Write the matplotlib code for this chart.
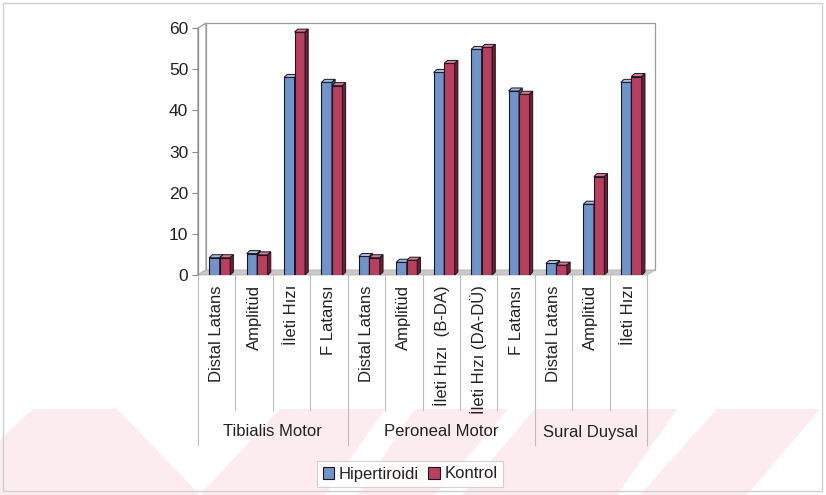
import matplotlib
matplotlib.use("Agg")
import matplotlib.pyplot as plt
from matplotlib.patches import Polygon, Rectangle, Patch
from matplotlib.lines import Line2D

plt.rcParams['font.family'] = ['Liberation Sans', 'DejaVu Sans']

# ---------------- data ----------------
groups = ["Tibialis Motor", "Peroneal Motor", "Sural Duysal"]
group_sizes = [4, 5, 3]
categories = ["Distal Latans", "Amplitüd", "İleti Hızı", "F Latansı",
              "Distal Latans", "Amplitüd", "İleti Hızı  (B-DA)", "İleti Hızı (DA-DÜ)", "F Latansı",
              "Distal Latans", "Amplitüd", "İleti Hızı"]
hipertiroidi = [4.2, 5.2, 48.0, 46.8, 4.5, 3.1, 49.2, 54.8, 44.7, 2.8, 17.2, 46.8]
kontrol = [4.2, 4.9, 59.0, 46.0, 4.2, 3.6, 51.4, 55.3, 43.9, 2.4, 23.9, 48.2]
series_names = ["Hipertiroidi", "Kontrol"]
yticks = [0, 10, 20, 30, 40, 50, 60]

# ---------------- style ----------------
W, H = 826, 495
fig = plt.figure(figsize=(W / 100, H / 100), dpi=100)
txt = '#222222'

def fx(px):
    return px / W

def fy(py):
    return 1 - py / H

# watermark band (decoration)
band_top, band_bot = 409, 495
pink = '#fdecef'
fig.patches.append(Rectangle((0, fy(band_bot)), 1, fy(band_top) - fy(band_bot),
                             transform=fig.transFigure, facecolor=pink, edgecolor='none', zorder=0))
whites = [
    [(0, 409), (33, 409), (0, 440)],
    [(117, 409), (280, 409), (200, 495)],
    [(325, 495), (358, 495), (415, 409), (385, 409)],
    [(435, 495), (462, 495), (535, 409), (508, 409)],
    [(617, 495), (640, 495), (717, 409), (677, 409)],
    [(747, 495), (826, 495), (826, 409), (820, 409)],
]
for poly in whites:
    fig.patches.append(Polygon([(fx(a), fy(b)) for a, b in poly], closed=True,
                               transform=fig.transFigure, facecolor='white', edgecolor='none', zorder=0.5))
# outer frame
fig.patches.append(Rectangle((fx(3), fy(491)), fx(819), fy(3) - fy(491), transform=fig.transFigure,
                             facecolor='none', edgecolor='#cfcfcf', linewidth=1.0, zorder=1))

# axes placement: x 198..647 px, y 275 (0) .. 28 (60)
x0p, x1p, y0p, y1p = 198, 647, 275, 28
ax = fig.add_axes([fx(x0p), fy(y0p), fx(x1p - x0p), fy(y1p) - fy(y0p)])
ax.set_zorder(3)
ax.patch.set_alpha(0)
n = len(categories)
ax.set_xlim(0, n)
ax.set_ylim(0, 60)
for s in ax.spines.values():
    s.set_visible(False)

ux = (x1p - x0p) / n      # px per category
uy = (y0p - y1p) / 60.0   # px per value unit

# wall depth
wdx, wdy = 8 / ux, 5 / uy
edge_wall = '#9a9a9a'
# back wall
ax.add_patch(Polygon([(wdx, wdy), (n + wdx, wdy), (n + wdx, 60 + wdy), (wdx, 60 + wdy)],
                     closed=True, facecolor='white', edgecolor=edge_wall, linewidth=0.9, clip_on=False, zorder=1))
# left wall
ax.add_patch(Polygon([(0, 0), (wdx, wdy), (wdx, 60 + wdy), (0, 60)],
                     closed=True, facecolor='white', edgecolor=edge_wall, linewidth=0.9, clip_on=False, zorder=1))
# floor
ax.add_patch(Polygon([(0, 0), (n, 0), (n + wdx, wdy), (wdx, wdy)],
                     closed=True, facecolor='#c9c9c9', edgecolor='#b5b5b5', linewidth=0.6, clip_on=False, zorder=1.5))

# bars with a small depth
w = 0.28
shift = 0.08
bdx, bdy = 3.2 / ux, 3.0 / uy
colors = [('#6f94c9', '#a4bde0', '#3f5f8c'), ('#b8405e', '#d9798f', '#6e1f33')]
edge = '#1c1420'
for k, vals in enumerate([hipertiroidi, kontrol]):
    front, top, side = colors[k]
    xs = [i + 0.5 + shift - w + k * w for i in range(n)]
    ax.bar(xs, vals, width=w, align='edge', color=front, edgecolor=edge, linewidth=0.8, zorder=3 + k)
    for xl, v in zip(xs, vals):
        ax.add_patch(Polygon([(xl, v), (xl + w, v), (xl + w + bdx, v + bdy), (xl + bdx, v + bdy)],
                             closed=True, facecolor=top, edgecolor=edge, linewidth=0.7, zorder=3 + k))
        ax.add_patch(Polygon([(xl + w, 0), (xl + w + bdx, bdy), (xl + w + bdx, v + bdy), (xl + w, v)],
                             closed=True, facecolor=side, edgecolor=edge, linewidth=0.7, zorder=3 + k))

# y axis
ax.plot([0, 0], [0, 60], color='#8a8a8a', linewidth=0.9, clip_on=False, zorder=2)
ax.set_yticks(yticks)
ax.set_yticklabels([str(t) for t in yticks], fontsize=12.5, color=txt)
ax.tick_params(axis='y', length=4, color='#8a8a8a', pad=3)
ax.set_xticks([])

# category labels and dividers
xt = ax.get_xaxis_transform()
inner_bot = -(410 - y0p) / (y0p - y1p)
outer_bot = -(445 - y0p) / (y0p - y1p)
bounds = [0]
for g in group_sizes:
    bounds.append(bounds[-1] + g)
for i in range(n + 1):
    yb = outer_bot if i in bounds else inner_bot
    ax.add_line(Line2D([i, i], [0, yb], transform=xt, color='#bdbdbd', linewidth=0.8, clip_on=False))
lab_top = -(285 - y0p) / (y0p - y1p)
for i, c in enumerate(categories):
    ax.text(i + 0.5, lab_top, c, transform=xt, rotation=90, ha='center', va='top',
            fontsize=12, color=txt)
grp_y = -(432 - y0p) / (y0p - y1p)
for gi, g in enumerate(groups):
    ax.text((bounds[gi] + bounds[gi + 1]) / 2, grp_y, g, transform=xt, ha='center', va='center',
            fontsize=12, color=txt)

# legend
handles = [Patch(facecolor=colors[0][0], edgecolor=edge, linewidth=0.8),
           Patch(facecolor=colors[1][0], edgecolor=edge, linewidth=0.8)]
leg = fig.legend(handles, series_names, loc='center', bbox_to_anchor=(fx(410), fy(474)), ncol=2,
                 frameon=True, fancybox=False, fontsize=12, handlelength=0.7, handleheight=0.7,
                 handletextpad=0.25, columnspacing=0.6, borderpad=0.35, labelcolor=txt)
leg.get_frame().set_edgecolor('#c8c8c8')
leg.get_frame().set_linewidth(0.8)
leg.set_zorder(4)

fig.savefig('out.png', dpi=100)
